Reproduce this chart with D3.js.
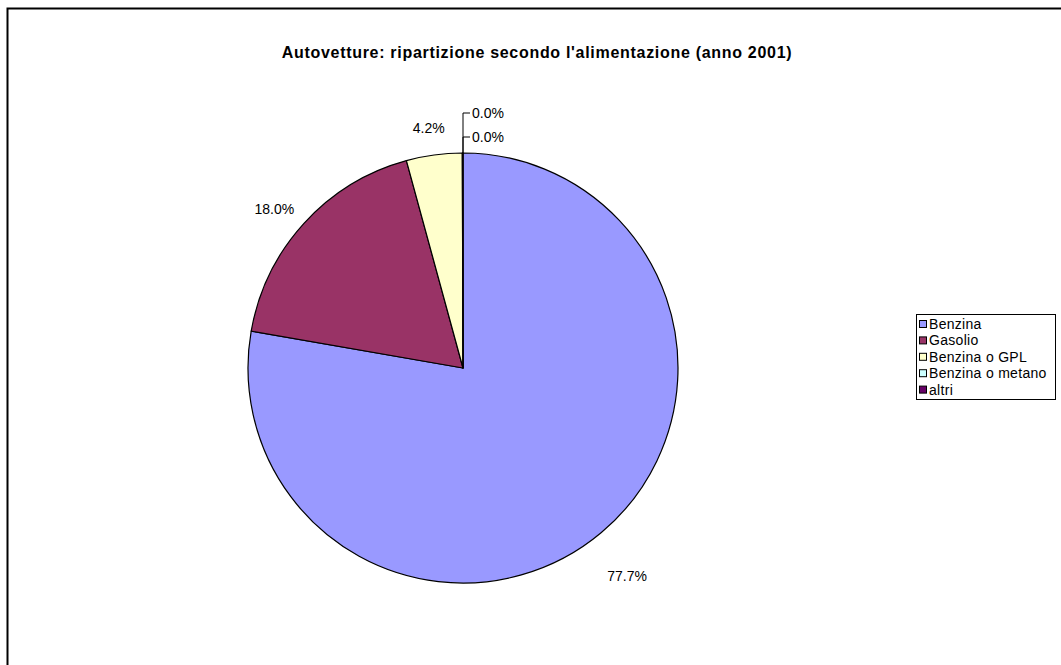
<!doctype html>
<html>
<head>
<meta charset="UTF-8" />
<script src="https://d3js.org/d3.v7.min.js"></script>
<style>
  body { margin: 0; background: #fff; }
  svg { display: block; font-family: "Liberation Sans", Arial, sans-serif; }
</style>
</head>
<body>
<svg id="chart" width="1061" height="665"></svg>
<script>
(function(){
  "use strict";

  const title = "Autovetture: ripartizione secondo l'alimentazione (anno 2001)";
  const categories = ["Benzina", "Gasolio", "Benzina o GPL", "Benzina o metano", "altri"];
  const shares = [77.74, 18.02, 4.19, 0.03, 0.02];
  const colors = ["#9999FF", "#993366", "#FFFFCC", "#CCFFFF", "#660066"];

  const data = categories.map(function(c, i){ return {name: c, value: shares[i], color: colors[i]}; });

  const svg = d3.select("#chart");
  const width = 1061, height = 665;

  // chart area frame
  svg.append("rect")
     .attr("x", 7.5).attr("y", 8.5)
     .attr("width", width + 10).attr("height", height + 10)
     .attr("fill", "#fff")
     .attr("stroke", "#000")
     .attr("stroke-width", 2);

  svg.append("text")
     .attr("x", 537).attr("y", 58)
     .attr("text-anchor", "middle")
     .style("font-size", "16px")
     .style("letter-spacing", "0.7px")
     .style("font-weight", "bold")
     .text(title);

  const cx = 463, cy = 368, r = 215;
  const g = svg.append("g").attr("transform", "translate(" + cx + "," + cy + ")");

  const pie = d3.pie().value(function(d){ return d.value; }).sort(null);
  const arc = d3.arc().innerRadius(0).outerRadius(r);
  const labelArc = d3.arc().innerRadius(255).outerRadius(255);
  const arcs = pie(data);
  const fmt = function(v){ return v.toFixed(1) + "%"; };

  g.selectAll("path.slice")
   .data(arcs)
   .enter().append("path")
   .attr("class", "slice")
   .attr("d", arc)
   .attr("fill", function(d){ return d.data.color; })
   .attr("stroke", "#000")
   .attr("stroke-width", 1.2)
   .attr("stroke-linejoin", "round");

  // labels for visible slices
  const big = arcs.filter(function(d){ return d.data.value >= 1; });
  g.selectAll("text.lbl")
   .data(big)
   .enter().append("text")
   .attr("class", "lbl")
   .attr("x", function(d){ return labelArc.centroid(d)[0]; })
   .attr("y", function(d){ return labelArc.centroid(d)[1] + 18; })
   .attr("text-anchor", "middle")
   .style("font-size", "14px")
   .text(function(d){ return fmt(d.data.value); });

  // tiny slices: leader lines stacked above the top of the pie
  const tiny = arcs.filter(function(d){ return d.data.value < 1; });
  tiny.forEach(function(d, i){
    const ly = -r - 16 - i * 24;
    g.append("path")
     .attr("d", "M0," + (-r) + "V" + ly + "H7")
     .attr("fill", "none")
     .attr("stroke", "#000")
     .attr("stroke-width", 1);
    g.append("text")
     .attr("x", 9).attr("y", ly + 5)
     .style("font-size", "14px")
     .text(fmt(d.data.value));
  });

  // legend
  const lx = 916, ly0 = 314, lw = 139, lh = 85;
  svg.append("rect")
     .attr("x", lx + 0.5).attr("y", ly0 + 0.5)
     .attr("width", lw).attr("height", lh)
     .attr("fill", "#fff")
     .attr("stroke", "#000")
     .attr("stroke-width", 1);

  const item = svg.selectAll("g.leg")
     .data(data)
     .enter().append("g")
     .attr("class", "leg")
     .attr("transform", function(d, i){ return "translate(" + (lx + 3) + "," + (ly0 + 10 + i * 16.4) + ")"; });
  item.append("rect")
      .attr("x", 0.5).attr("y", -3.5)
      .attr("width", 7).attr("height", 7)
      .attr("fill", function(d){ return d.color; })
      .attr("stroke", "#000");
  item.append("text")
      .attr("x", 10).attr("y", 5)
      .style("font-size", "14px")
      .style("letter-spacing", "0.3px")
      .text(function(d){ return d.name; });
})();
</script>
</body>
</html>
